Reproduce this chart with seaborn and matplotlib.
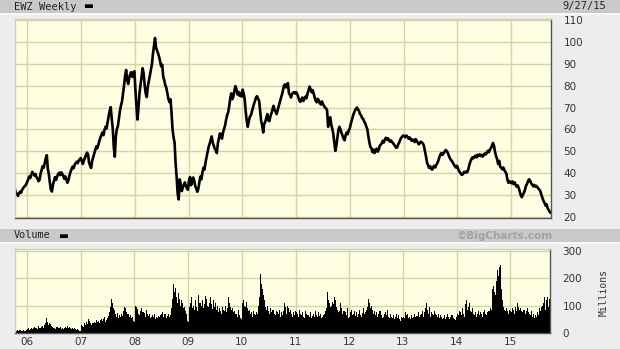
import numpy as np
import pandas as pd
import matplotlib
matplotlib.use("Agg")
import matplotlib.pyplot as plt
from matplotlib.patches import Rectangle
import seaborn as sns

# ---------------- data (weekly closes, USD) ----------------
price_2005 = [33.5, 32.8, 31.2, 30.4, 29.6, 30.8, 31.5, 31.0, 32.4, 33.1, 33.8, 34.2, 34.9]
price_2006 = [36.0, 37.2, 38.5, 37.8, 39.4, 40.6, 39.8, 38.9, 39.6, 38.2, 37.5, 36.3, 37.0,
              39.8, 41.6, 43.2, 42.5, 44.6, 46.8, 48.2, 42.0, 39.5, 35.6, 32.4, 31.6, 34.8,
              36.5, 38.2, 36.9, 38.4, 39.6, 40.2, 39.1, 40.4, 39.6, 38.8, 37.4, 38.5, 37.2,
              35.6, 36.8, 38.9, 40.6, 41.8, 43.0, 42.2, 43.8, 44.5, 45.2, 44.6, 45.8, 46.4, 46.9]
price_2007 = [45.5, 44.2, 45.8, 47.0, 48.2, 49.4, 48.6, 44.8, 43.5, 42.4, 45.6, 47.2,
              49.0, 50.6, 52.2, 51.4, 53.0, 54.8, 56.2, 57.5, 58.6, 57.4, 59.8, 61.2, 60.4,
              63.2, 66.0, 68.4, 70.2, 65.0, 60.5, 52.0, 47.5, 56.8, 60.2, 61.5, 65.0, 68.6, 71.0,
              72.8, 76.4, 80.2, 84.6, 87.2, 82.5, 80.8, 83.6, 85.4, 86.2, 84.0, 85.8, 86.6]
price_2008 = [78.0, 70.5, 64.5, 70.2, 76.8, 80.4, 84.2, 88.0, 85.6, 80.2, 76.4, 74.8, 79.5,
              82.0, 84.6, 87.2, 89.8, 94.5, 98.2, 101.8, 97.6, 96.0, 94.8, 93.2, 91.0, 88.8,
              89.6, 84.0, 82.5, 80.2, 79.0, 76.4, 74.0, 72.5, 73.8, 68.0, 60.2, 56.4, 54.0,
              44.5, 38.2, 30.5, 28.0, 37.2, 35.0, 31.8, 33.5, 34.6, 35.8, 34.2, 33.0, 32.4]
price_2009 = [36.8, 38.2, 34.5, 36.0, 38.0, 36.6, 34.2, 33.0, 31.5, 32.8, 35.6, 38.4, 37.2,
              40.2, 42.5, 41.6, 44.8, 47.2, 49.6, 52.0, 53.4, 55.2, 56.8, 54.0, 52.6, 51.2,
              50.5, 49.2, 53.6, 56.0, 58.2, 57.4, 55.8, 58.6, 60.2, 61.8, 64.4, 66.5, 67.8,
              70.6, 74.2, 76.5, 73.8, 75.0, 77.6, 79.8, 78.4, 76.0, 77.2, 75.4, 76.6, 75.0]
price_2010 = [78.2, 76.5, 74.0, 68.4, 64.0, 61.2, 63.5, 65.8, 66.4, 68.2, 70.0, 71.6, 73.0,
              74.6, 75.2, 74.0, 73.2, 68.5, 64.0, 61.8, 58.6, 62.5, 63.4, 65.2, 67.0, 64.2,
              63.8, 66.0, 67.4, 69.2, 70.8, 69.0, 68.2, 67.0, 68.8, 70.5, 72.4, 74.0, 75.6,
              77.5, 79.8, 80.6, 79.2, 80.4, 81.2, 76.4, 75.8, 74.6, 76.2, 76.8, 77.0, 76.4]
price_2011 = [77.0, 76.2, 74.8, 73.4, 72.6, 73.8, 74.6, 73.0, 74.2, 75.0, 74.2, 76.4, 77.8,
              79.6, 78.4, 77.0, 78.0, 76.2, 74.6, 73.0, 72.4, 74.0, 73.2, 72.0, 71.4, 72.8,
              71.6, 70.8, 70.0, 69.6, 68.8, 61.2, 64.0, 65.6, 62.4, 60.4, 58.0, 54.2, 50.2,
              52.6, 56.4, 59.8, 61.2, 60.0, 58.4, 57.2, 55.8, 55.0, 57.4, 58.6, 57.8, 59.6]
price_2012 = [60.4, 62.6, 64.2, 66.0, 67.4, 68.6, 69.4, 70.0, 69.2, 68.4, 67.0, 66.4, 65.2,
              64.8, 63.6, 62.8, 61.4, 60.2, 57.0, 54.2, 52.0, 51.4, 49.6, 50.8, 49.2, 50.4,
              51.2, 49.8, 50.6, 52.4, 53.0, 53.6, 54.8, 54.0, 55.2, 56.2, 55.4, 56.0, 55.0, 54.4,
              55.0, 54.2, 53.8, 53.0, 52.4, 51.6, 51.8, 53.2, 54.0, 55.4, 56.2, 56.8, 57.2]
price_2013 = [57.0, 56.4, 57.2, 56.6, 55.8, 56.4, 55.6, 54.8, 55.4, 55.0, 54.2, 55.6, 54.8,
              54.0, 53.2, 53.8, 54.4, 54.0, 53.6, 52.4, 50.0, 47.6, 44.8, 43.6, 42.4, 43.2,
              42.0, 41.6, 42.8, 43.4, 42.6, 43.8, 44.6, 45.8, 47.4, 48.6, 49.2, 48.4, 49.0,
              49.8, 50.6, 50.2, 49.4, 48.2, 47.0, 46.2, 45.6, 44.8, 44.0, 43.2, 42.6, 43.4]
price_2014 = [42.2, 41.0, 40.4, 39.6, 39.2, 39.8, 40.6, 40.2, 40.8, 40.4, 41.6, 43.8, 45.2,
              46.4, 47.2, 46.8, 47.6, 48.0, 47.2, 48.4, 47.8, 48.6, 47.8, 48.4, 47.6, 48.2,
              49.0, 48.6, 49.4, 50.2, 49.6, 50.8, 51.4, 52.6, 53.8, 52.4, 49.6, 47.8, 46.4,
              44.2, 45.6, 43.0, 42.4, 41.8, 42.6, 41.4, 40.6, 39.8, 37.0, 35.6, 36.4, 35.8]
price_2015 = [35.4, 36.2, 35.0, 35.8, 34.6, 33.8, 34.4, 33.2, 31.6, 29.8, 29.0, 30.2, 31.0,
              32.4, 34.2, 35.0, 36.4, 37.2, 36.6, 35.4, 34.8, 34.0, 34.6, 33.8, 34.2, 33.6,
              33.0, 32.4, 31.8, 30.0, 28.6, 27.4, 26.4, 25.2, 25.8, 24.0, 23.2, 22.4, 21.8]

# weekly volume, millions of shares
vol_2005 = [10, 9, 11, 8, 10, 9, 12, 9, 8, 10, 9, 8, 11]
vol_2006 = [14, 18, 12, 16, 20, 15, 18, 22, 17, 20, 16, 24, 19, 18, 22, 25, 20, 28,
            35, 55, 42, 30, 38, 32, 25, 22, 18, 20, 16, 22, 19, 17, 21, 15, 18,
            16, 20, 22, 18, 24, 19, 21, 17, 15, 18, 16, 20, 14, 12, 15, 10, 8, 9]
vol_2007 = [30, 25, 22, 35, 28, 40, 32, 50, 45, 38, 30, 35, 42, 36, 48, 40, 44,
            38, 46, 52, 45, 50, 58, 42, 48, 55, 62, 75, 95, 125, 110, 90, 85, 70,
            60, 72, 55, 65, 58, 68, 62, 80, 94, 90, 75, 70, 60, 65, 55, 58, 45, 40]
vol_2008 = [100, 95, 88, 70, 65, 82, 90, 75, 78, 72, 60, 85, 70, 62, 68, 55, 60,
            65, 58, 70, 52, 60, 55, 62, 58, 66, 70, 75, 60, 68, 55, 62, 70, 58, 64,
            90, 125, 180, 150, 165, 130, 110, 145, 125, 100, 120, 110, 90, 95, 80, 70, 45]
vol_2009 = [40, 95, 110, 130, 90, 100, 85, 120, 95, 80, 140, 110, 100, 120, 90, 105, 135,
            125, 100, 95, 110, 130, 105, 88, 120, 95, 110, 85, 100, 75, 90, 80, 70, 95, 85,
            80, 100, 75, 90, 130, 110, 95, 85, 90, 75, 80, 70, 60, 85, 65, 55, 50]
vol_2010 = [110, 120, 100, 95, 115, 90, 80, 85, 70, 75, 60, 80, 70, 65, 75, 70, 100,
            130, 215, 180, 160, 140, 120, 95, 85, 100, 80, 70, 90, 75, 85, 70, 65, 80, 75,
            70, 85, 60, 75, 65, 80, 110, 95, 70, 100, 90, 75, 85, 70, 60, 75, 65]
vol_2011 = [80, 75, 70, 60, 85, 70, 65, 75, 60, 55, 80, 70, 65, 60, 75, 55, 62,
            70, 58, 80, 65, 60, 75, 62, 68, 55, 60, 65, 70, 80, 90, 150, 120, 110, 95,
            100, 115, 105, 130, 120, 95, 85, 75, 80, 110, 90, 70, 80, 75, 65, 90, 55]
vol_2012 = [60, 75, 85, 65, 70, 80, 62, 75, 58, 70, 85, 65, 60, 72, 90, 68, 78, 85,
            95, 125, 110, 90, 100, 85, 70, 80, 65, 75, 60, 70, 80, 65, 55, 60, 70,
            75, 65, 85, 60, 55, 70, 60, 55, 65, 50, 60, 70, 55, 65, 50, 45, 60, 55]
vol_2013 = [60, 55, 75, 65, 70, 55, 60, 50, 65, 55, 60, 70, 58, 62, 75, 58, 65,
            70, 80, 60, 75, 90, 110, 85, 70, 95, 60, 75, 70, 65, 80, 70, 65, 60,
            70, 55, 65, 60, 50, 55, 65, 50, 60, 70, 58, 52, 60, 65, 55, 50, 48, 60]
vol_2014 = [70, 65, 80, 75, 65, 90, 70, 60, 105, 120, 85, 95, 110, 80, 75, 90, 70,
            65, 75, 60, 70, 80, 65, 75, 70, 60, 75, 85, 70, 65, 75, 80, 90, 85, 160,
            170, 150, 140, 190, 230, 210, 240, 250, 160, 120, 95, 85, 80, 90, 80, 70, 85]
vol_2015 = [80, 75, 90, 85, 70, 95, 80, 110, 95, 85, 90, 80, 75, 85, 70, 80, 90,
            75, 70, 65, 80, 60, 70, 55, 65, 60, 75, 65, 90, 80, 95, 100, 110, 130, 85,
            120, 130, 95, 125]

price_ticks = [20, 30, 40, 50, 60, 70, 80, 90, 100, 110]
volume_ticks = [0, 100, 200, 300]
year_labels = ["06", "07", "08", "09", "10", "11", "12", "13", "14", "15"]
end_date = "2015-09-27"

price = sum([price_2005, price_2006, price_2007, price_2008, price_2009, price_2010,
             price_2011, price_2012, price_2013, price_2014, price_2015], [])
volume = sum([vol_2005, vol_2006, vol_2007, vol_2008, vol_2009, vol_2010,
              vol_2011, vol_2012, vol_2013, vol_2014, vol_2015], [])

df_p = pd.DataFrame({"date": pd.date_range(end=end_date, periods=len(price), freq="W-SUN"),
                     "price": price})
df_v = pd.DataFrame({"date": pd.date_range(end=end_date, periods=len(volume), freq="W-SUN"),
                     "volume": volume})

# ---------------- figure ----------------
W, H = 620, 349
BG = "#ededed"
BAR = "#c9c9c9"
PANEL = "#fefee3"
GRID = "#d6d3a6"
TXT = "#333333"

sns.set_style("white")
plt.rcParams["font.family"] = ["DejaVu Sans"]

fig = plt.figure(figsize=(W / 100, H / 100), dpi=100, facecolor=BG)

def fx(px):
    return px / W

def fy(py):
    return 1 - py / H

# header bars
fig.patches.append(Rectangle((0, fy(13)), 1, 13 / H, transform=fig.transFigure,
                             facecolor=BAR, edgecolor="none", zorder=0))
fig.patches.append(Rectangle((0, fy(242)), 1, 13 / H, transform=fig.transFigure,
                             facecolor=BAR, edgecolor="none", zorder=0))
fig.patches.append(Rectangle((0, fy(15)), 1, 2 / H, transform=fig.transFigure,
                             facecolor="#f8f8f8", edgecolor="none", zorder=0))
fig.patches.append(Rectangle((0, fy(244)), 1, 2 / H, transform=fig.transFigure,
                             facecolor="#f8f8f8", edgecolor="none", zorder=0))

ax_p = fig.add_axes([fx(15), fy(218), fx(536), 199 / H])
ax_v = fig.add_axes([fx(15), fy(333), fx(535), 84 / H])

xmin = pd.Timestamp("2005-10-10")
xmax = pd.Timestamp("2015-09-29")
year_ticks = [pd.Timestamp(f"20{y}-01-01") for y in year_labels]

for ax in (ax_p, ax_v):
    ax.set_facecolor(PANEL)
    ax.set_xlim(xmin, xmax)
    ax.set_xticks(year_ticks)
    ax.grid(True, color=GRID, linewidth=1.0)
    ax.set_axisbelow(True)
    ax.yaxis.tick_right()
    ax.tick_params(axis="both", length=0, labelsize=7.5, colors=TXT)
    for s in ("top", "left"):
        ax.spines[s].set_color("#d0d0c0")
        ax.spines[s].set_linewidth(1)
    for s in ("bottom", "right"):
        ax.spines[s].set_color("#555555")
        ax.spines[s].set_linewidth(1)

# price line
sns.lineplot(data=df_p, x="date", y="price", ax=ax_p, color="black", linewidth=1.9,
             legend=False)
ax_p.set_ylim(19.5, 110.5)
ax_p.set_yticks(price_ticks)
ax_p.set_yticklabels([str(t) for t in price_ticks])
ax_p.tick_params(axis="y", pad=9)
ax_p.set_xticklabels([])
ax_p.set_xlabel("")
ax_p.set_ylabel("")

# volume bars
ax_v.bar(df_v["date"], df_v["volume"], width=7.2, color="black", linewidth=0, align="center")
ax_v.set_ylim(0, 307)
ax_v.set_yticks(volume_ticks)
ax_v.set_yticklabels([str(t) for t in volume_ticks])
ax_v.tick_params(axis="y", pad=9)
ax_v.set_xticklabels(year_labels)
ax_v.tick_params(axis="x", pad=3)
ax_v.set_xlabel("")
ax_v.set_ylabel("")

# header texts
mono = "DejaVu Sans Mono"
fig.text(fx(14), fy(6.5), "EWZ Weekly", family=mono, fontsize=7.5, color="#222222",
         va="center", ha="left")
fig.text(fx(83), fy(6.5), "\u25ac", fontsize=7.5, color="black", va="center", ha="left")
fig.text(fx(606), fy(6.5), "9/27/15", family=mono, fontsize=7.5, color="#222222",
         va="center", ha="right")
fig.text(fx(14), fy(235.5), "Volume", family=mono, fontsize=7.3, color="#222222",
         va="center", ha="left")
fig.text(fx(58), fy(235.5), "\u25ac", fontsize=7.5, color="black", va="center", ha="left")
fig.text(fx(553), fy(235.5), "\u00a9BigCharts.com", fontsize=7.5, fontweight="bold",
         color="#a3a3a3", va="center", ha="right")
fig.text(fx(604), fy(292), "Millions", family=mono, fontsize=7, color=TXT,
         rotation=90, va="center", ha="center")

fig.savefig("out.png", dpi=100, facecolor=BG)
